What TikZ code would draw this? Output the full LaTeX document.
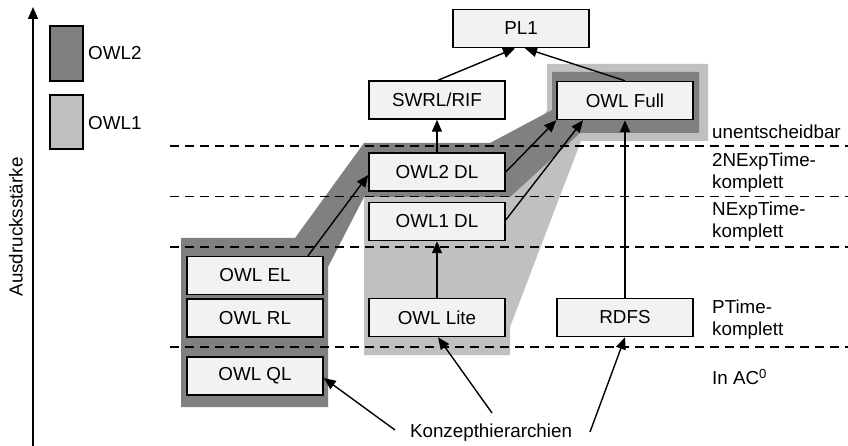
\documentclass[tikz,border=0pt]{standalone}
\usepackage{fontspec}
\setmainfont{Liberation Sans}
\usetikzlibrary{arrows.meta,calc}
\definecolor{boxfill}{HTML}{F2F2F2}
\definecolor{darkreg}{HTML}{808080}
\definecolor{lightreg}{HTML}{C0C0C0}
\tikzset{
  owlbox/.style={draw=black,line width=1.5pt,fill=boxfill,minimum width=136pt,minimum height=38pt,inner sep=0pt,font=\fontsize{18.8}{22}\selectfont},
  legbox/.style={draw=black,line width=1.3pt,minimum width=33pt,inner sep=0pt},
  lbl/.style={anchor=west,align=left,inner sep=0pt,font=\fontsize{18.8}{22}\selectfont},
  conn/.style={line width=1.4pt,-{Triangle[length=12pt,width=10pt]}},
  level/.style={line width=1.3pt,dash pattern=on 9pt off 6pt}
}
\begin{document}
\begin{tikzpicture}[x=1pt,y=-1pt]
\useasboundingbox (0,0) rectangle (848,446);
% regions
\fill[lightreg] (547,64) -- (708,64) -- (708,141) -- (581,141) -- (510,327) -- (510,355) -- (364,355) -- (364,190) -- (500,190) -- (547,110) -- cycle;
\fill[darkreg] (181,238) -- (295,238) -- (364,143) -- (490,143) -- (552,110) -- (552,72) -- (699,72) -- (699,133) -- (580,133) -- (510,197) -- (364,197) -- (328,267) -- (328,407) -- (181,407) -- cycle;
% level lines
\foreach \yy in {146,196.5,247,347} \draw[level] (170,\yy) -- (848,\yy);
% axis
\coordinate (axb) at (33,446);
\coordinate (axt) at (33,7);
\draw[line width=1.5pt,-{Triangle[length=12pt,width=10pt]}] (axb) -- (axt);
\node[rotate=90,font=\fontsize{18.8}{22}\selectfont] (axlab) at (16,227) {Ausdrucksstärke};
% legend
\node[legbox,fill=darkreg,minimum height=55pt] (leg2) at (66.5,53.5) {};
\node[legbox,fill=lightreg,minimum height=54pt] (leg1) at (66.5,122) {};
\node[lbl] (leg2t) at (88,53) {OWL2};
\node[lbl] (leg1t) at (88,123) {OWL1};
% boxes
\node[owlbox] (PL1) at (521,28.5) {PL1};
\node[owlbox] (SWRL) at (437,100) {SWRL/RIF};
\node[owlbox] (Full) at (625,100.5) {OWL Full};
\node[owlbox] (DL2) at (437,172) {OWL2 DL};
\node[owlbox] (DL1) at (437,221.5) {OWL1 DL};
\node[owlbox] (EL) at (255,275.5) {OWL EL};
\node[owlbox] (RL) at (255,318) {OWL RL};
\node[owlbox] (Lite) at (437,317.5) {OWL Lite};
\node[owlbox] (RDFS) at (625,317.5) {RDFS};
\node[owlbox] (QL) at (255,376) {OWL QL};
% complexity labels
\node[lbl] (l0) at (712,132) {unentscheidbar};
\node[lbl] (l1) at (712,172.5) {2NExpTime-\\komplett};
\node[lbl] (l2) at (712,221.5) {NExpTime-\\komplett};
\node[lbl] (l3) at (712,319.5) {PTime-\\komplett};
\node[lbl] (l4) at (712,377) {In AC\textsuperscript{0}};
% concept hierarchies
\node[font=\fontsize{18.8}{22}\selectfont,inner sep=0pt] (konz) at (491,433) {Konzepthierarchien};
\coordinate (k1) at (395,430);
\coordinate (k2) at (492,413);
\coordinate (k3) at (590,432);
% arrows
\draw[conn] ([xshift=1pt]SWRL.north) -- ([xshift=-6pt]PL1.south);
\draw[conn] (Full.north) -- ([xshift=4pt]PL1.south);
\draw[conn] (DL2.north) -- (SWRL.south);
\draw[conn] ([xshift=53pt]EL.north) -- ([yshift=-3pt]DL2.west);
\draw[conn] (DL2.east) -- (Full.south west);
\draw[conn] ([yshift=1.5pt]DL1.east) -- ([xshift=-42pt]Full.south);
\draw[conn] (Lite.north) -- (DL1.south);
\draw[conn] (RDFS.north) -- (Full.south);
\draw[conn] (k1) -- ([yshift=-2pt]QL.east);
\draw[conn] (k2) -- ([xshift=1pt]Lite.south);
\draw[conn] (k3) -- (RDFS.south);
\end{tikzpicture}
\end{document}
